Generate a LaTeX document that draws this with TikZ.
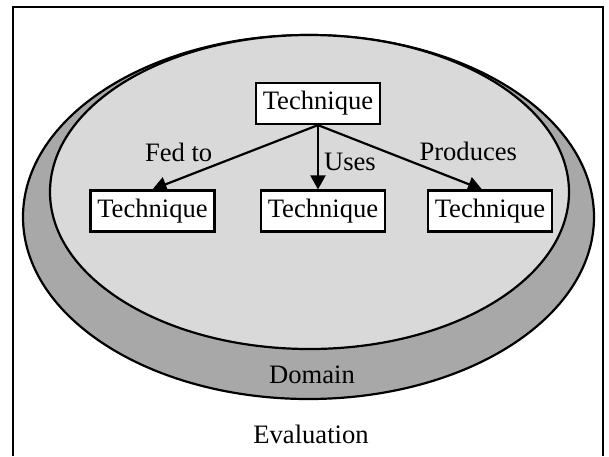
\documentclass[tikz,border=0pt]{standalone}
\usepackage{fontspec}
\setmainfont{Liberation Serif}
\usepackage{tikz}
\usetikzlibrary{arrows.meta,shapes.geometric}

\definecolor{ringdark}{gray}{0.66}
\definecolor{ringlight}{gray}{0.85}
\newcommand{\techfont}{\fontsize{26.6}{31}\selectfont}

\begin{document}
\begin{tikzpicture}[
    x=1pt, y=-1pt,
    line width=2.2pt,
    techbox/.style={rectangle, draw=black, fill=white, minimum width=124pt, minimum height=41pt, inner sep=0pt, font=\techfont},
    ring/.style={ellipse, draw=black, inner sep=0pt},
    lbl/.style={font=\techfont, inner sep=2pt},
    arrow/.style={-{Triangle[length=14pt,width=15pt]}, line width=2.2pt, draw=black}
]
\useasboundingbox (0,0) rectangle (609,456);

% Frame
\draw (13,456) |- (603,7) -- (603,456);

% Rings
\node[ring, fill=ringdark, minimum width=571pt, minimum height=364pt] (domain) at (308.5,217) {};
\node[ring, fill=ringlight, minimum width=519pt, minimum height=314pt] (inner) at (309.5,192) {};

% Nodes
\node[techbox] (top) at (318,103.5) {Technique};
\node[techbox] (left) at (152.5,211) {Technique};
\node[techbox] (mid) at (323,211) {Technique};
\node[techbox] (right) at (490,211) {Technique};

% Edges
\draw[arrow] (top.south) -- node[lbl, pos=0.62, above left] {Fed to} (left.north);
\draw[arrow] (top.south) -- node[lbl, pos=0.58, right, xshift=3pt] {Uses} (top.south |- mid.north);
\draw[arrow] (top.south) -- node[lbl, pos=0.6, above right] {Produces} ([xshift=-8pt]right.north);

% Labels
\node[lbl, anchor=base] (domlbl) at (312,383) {Domain};
\node[lbl, anchor=base] (evallbl) at (311,443) {Evaluation};

\end{tikzpicture}
\end{document}
